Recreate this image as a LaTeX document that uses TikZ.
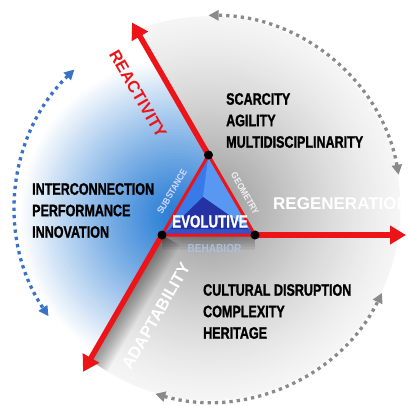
\documentclass[tikz,border=0pt]{standalone}
\usepackage{fontspec}
\setmainfont{Liberation Sans}
\newfontfamily\condfont[FakeStretch=0.76, BoldFeatures={FakeBold=1.2}]{Liberation Sans}
\newfontfamily\labelfont[FakeStretch=0.88]{Liberation Sans}
\usetikzlibrary{arrows.meta,positioning,calc}

\definecolor{axisred}{RGB}{236,20,24}
\definecolor{loopblue}{RGB}{58,114,200}
\definecolor{loopgrey}{RGB}{138,138,138}
\definecolor{faceblue}{RGB}{55,122,232}
\definecolor{facelight}{RGB}{88,152,242}
\definecolor{facelow}{RGB}{48,82,202}
\definecolor{coreblue}{RGB}{36,50,164}
\definecolor{behablue}{RGB}{172,192,220}
\definecolor{glowblue}{RGB}{35,122,212}

\begin{document}
\begin{tikzpicture}[
    x=1pt, y=1pt,
    axis/.style={draw=axisred, line width=5.5pt, -{Triangle[length=16pt,width=18pt]}},
    looparc/.style={line width=3.3pt, dash pattern=on 3.3pt off 4pt,
      {Triangle[length=10pt,width=10pt]}-{Triangle[length=10pt,width=10pt]}},
    keywords/.style={font=\condfont\bfseries\fontsize{16.5}{21.5}\selectfont,
      align=left, anchor=west, inner sep=0pt},
    axislabel/.style={font=\bfseries\fontsize{16.5}{16.5}\selectfont, inner sep=0pt},
    facelabel/.style={font=\labelfont\bfseries\fontsize{9.3}{9.3}\selectfont, inner sep=0pt},
    vertexdot/.style={circle, fill=black, inner sep=0pt, minimum size=9pt},
    softshadow/.style={black, opacity=0.035}
  ]
  \useasboundingbox (0,0) rectangle (409,405);

  % Geometry of the core triangle
  \coordinate (T) at (208.5,250);
  \coordinate (L) at (162,170);
  \coordinate (R) at (255,170);
  \coordinate (C) at (208.5,196.7);
  \coordinate (A) at (203,208);
  \coordinate (B1) at (170,176);
  \coordinate (B2) at (249,176);
  \coordinate (glow) at (178,188);

  % Arrow tips
  \coordinate (tipReact) at ($(T)+(120:153)$);
  \coordinate (tipAdapt) at ($(L)+(240:158)$);
  \coordinate (tipRegen) at (406,170);

  % Background disc, grey fading outwards
  \foreach \r in {192,190,...,2} {
    \pgfmathsetmacro\k{4+38*(1-\r/192)^1.3}
    \fill[black!\k] (C) circle[radius=\r];
  }
  % blue sector
  \begin{scope}
    \clip (C) circle[radius=192];
    \clip (T) -- ($(T)+(120:400)$) -- (-400,200) -- ($(L)+(240:400)$) -- (L) -- cycle;
    \fill[white] (C) circle[radius=192];
    \foreach \r in {160,157,...,4} {
      \pgfmathsetmacro\t{100*(\r/160)^1.15}
      \fill[white!\t!glowblue] (glow) circle[radius=\r];
    }
  \end{scope}
  % shadow under the lower axes
  \begin{scope}
    \clip (C) circle[radius=192];
    \clip (L) -- ($(L)+(240:400)$) -- (400,-300) -- ($(R)+(0:400)$) -- (R) -- cycle;
    \foreach \w in {3,6,...,42}
      \draw[softshadow, line width=\w pt] (L) -- (tipAdapt);
    \foreach \w in {3,6,...,30}
      \draw[softshadow, line width=\w pt] (L) -- (R);
  \end{scope}

  % Cycle arrows
  \draw[looparc, loopgrey] ($(C)+(10:193)$) arc[start angle=10, end angle=90, radius=193];
  \draw[looparc, loopblue] ($(C)+(134:193)$) arc[start angle=134, end angle=214, radius=193];
  \draw[looparc, loopgrey] ($(C)+(254:193)$) arc[start angle=254, end angle=334, radius=193];

  % Axes
  \draw[axis] (T) -- (tipReact);
  \draw[axis] (L) -- (tipAdapt);
  \draw[axis] (R) -- (tipRegen);

  % Triangle
  \fill[faceblue] (T) -- (L) -- (R) -- cycle;
  \fill[facelight] (T) -- (R) -- (B2) -- (A) -- cycle;
  \fill[facelow] (L) -- (R) -- (B2) -- (B1) -- cycle;
  \fill[coreblue] (A) -- (B1) -- (B2) -- cycle;
  \draw[axisred, line width=3pt, line join=round] (T) -- (L) -- (R) -- cycle;
  \node[vertexdot] (vT) at (T) {};
  \node[vertexdot] (vL) at (L) {};
  \node[vertexdot] (vR) at (R) {};

  % Triangle labels
  \node[font=\condfont\bfseries\fontsize{17.5}{17.5}\selectfont, text=white, inner sep=0pt] (evol) at (210,183.5) {EVOLUTIVE};
  \node[facelabel, text=white!85!blue, rotate=60] (subst) at (172,213.5) {SUBSTANCE};
  \node[facelabel, text=gray!12, rotate=-60] (geom) at (245,211.5) {GEOMETRY};
  \node[font=\labelfont\bfseries\fontsize{11.5}{11.5}\selectfont, text=behablue, inner sep=0pt] (beha) at (214.5,156) {BEHABIOR};

  % Axis labels
  \node[axislabel, text=axisred, rotate=-60] (react) at (138,311) {REACTIVITY};
  \node[axislabel, text=white, rotate=60] (adapt) at (156,89) {ADAPTABILITY};
  \node[axislabel, text=white, anchor=west, font=\bfseries\fontsize{17}{17}\selectfont] (regen) at (273,201) {REGENERATION};

  % Keyword groups
  \node[keywords] (upper) at (226,284.5) {SCARCITY\\AGILITY\\MULTIDISCIPLINARITY};
  \node[keywords] (left) at (32,194.5) {INTERCONNECTION\\PERFORMANCE\\INNOVATION};
  \node[keywords] (lower) at (203,93.5) {CULTURAL DISRUPTION\\COMPLEXITY\\HERITAGE};

\end{tikzpicture}
\end{document}
